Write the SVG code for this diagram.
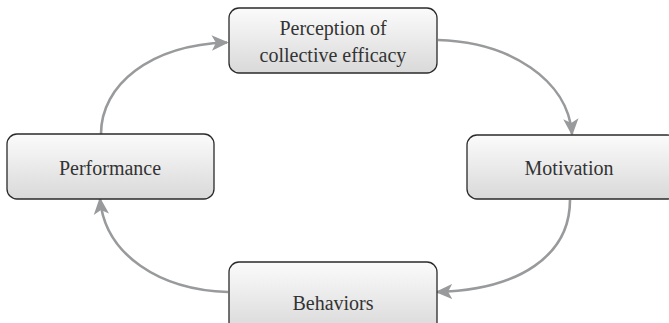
<svg xmlns="http://www.w3.org/2000/svg" width="669" height="323" viewBox="0 0 669 323">
  <defs>
    <linearGradient id="boxFill" x1="0" y1="0" x2="0" y2="1">
      <stop offset="0" stop-color="#fbfbfb"/>
      <stop offset="1" stop-color="#d9d9da"/>
    </linearGradient>
    <marker id="head" viewBox="0 0 10 10" refX="9" refY="5" markerWidth="17" markerHeight="17" markerUnits="userSpaceOnUse" orient="auto">
      <path d="M0,0.5 L10,5 L0,9.5 L2.5,5 Z" fill="#999a9c"/>
    </marker>
    <style>
      .box { fill: url(#boxFill); stroke: #2a2a2a; stroke-width: 1.3; }
      .label { font-size: 20px; fill: #333; text-anchor: middle; }
      .link { fill: none; stroke: #999a9c; stroke-width: 2.6; marker-end: url(#head); }
    </style>
  </defs>
  <rect width="669" height="323" fill="#ffffff"/>

  <g id="connectors">
    <path class="link" d="M101,134 C101,85 150,45 227,42.5"/>
    <path class="link" d="M438,40 C510,42 568,80 572,134"/>
    <path class="link" d="M570,200 C570,255 520,290 437,292"/>
    <path class="link" d="M228,292 C160,290 105,255 100,199"/>
  </g>

  <g font-family="'Liberation Serif', 'Times New Roman', 'DejaVu Serif', serif">
    <g id="perception">
      <rect class="box" x="229" y="8" width="208" height="65" rx="10"/>
      <text class="label" x="333" y="35">Perception of</text>
      <text class="label" x="333" y="62">collective efficacy</text>
    </g>

    <g id="motivation">
      <rect class="box" x="467" y="135" width="210" height="64" rx="10"/>
      <text class="label" x="569" y="175">Motivation</text>
    </g>

    <g id="behaviors">
      <rect class="box" x="229" y="262" width="208" height="70" rx="10"/>
      <text class="label" x="333" y="310">Behaviors</text>
    </g>

    <g id="performance">
      <rect class="box" x="7" y="134" width="207" height="65" rx="10"/>
      <text class="label" x="110" y="175">Performance</text>
    </g>
  </g>
</svg>
